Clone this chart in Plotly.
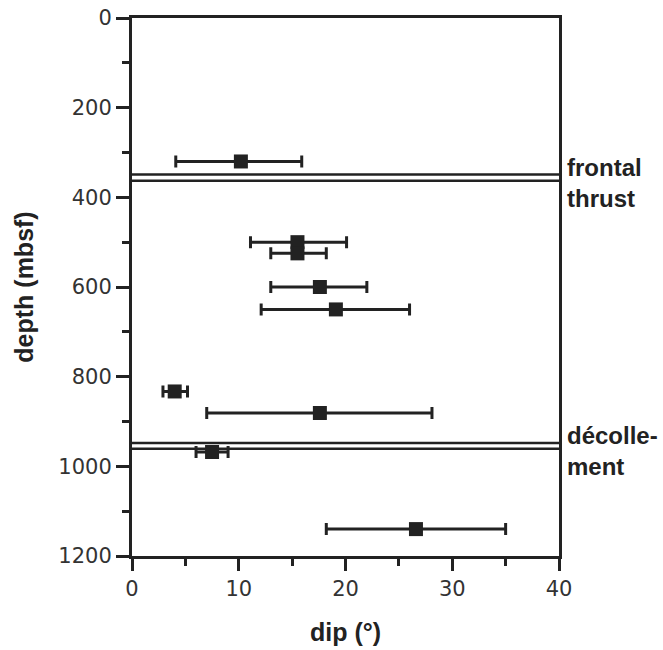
import plotly.graph_objects as go

# Dip measurements with depth
depth = [320, 500, 525, 600, 650, 833, 881, 968, 1140]
dip = [10.2, 15.5, 15.5, 17.6, 19.1, 4.0, 17.6, 7.5, 26.6]
dip_min = [4.1, 11.1, 13.0, 13.0, 12.1, 2.9, 7.0, 6.0, 18.2]
dip_max = [15.9, 20.1, 18.2, 22.0, 26.0, 5.2, 28.1, 9.0, 35.0]

# Structural boundaries drawn as double lines
boundary_names = ["frontal<br>thrust", "décolle-<br>ment"]
boundary_top = [349, 948]
boundary_bottom = [363, 961]
label_depth = [369, 965]

x_ticks = [0, 10, 20, 30, 40]
y_ticks = [0, 200, 400, 600, 800, 1000, 1200]

INK = "#222222"

err_plus = [hi - d for hi, d in zip(dip_max, dip)]
err_minus = [d - lo for lo, d in zip(dip_min, dip)]

fig = go.Figure()
fig.add_trace(go.Scatter(
    x=dip, y=depth, mode="markers",
    marker=dict(symbol="square", size=14, color=INK),
    error_x=dict(type="data", symmetric=False, array=err_plus, arrayminus=err_minus,
                 color=INK, thickness=3, width=6),
    showlegend=False, hoverinfo="skip",
))

shapes = []
for top, bot in zip(boundary_top, boundary_bottom):
    for yv in (top, bot):
        shapes.append(dict(type="line", xref="paper", x0=0, x1=1, yref="y", y0=yv, y1=yv,
                           line=dict(color=INK, width=2.5)))

annotations = []
for name, yd in zip(boundary_names, label_depth):
    bold = "<br>".join("<b>" + part + "</b>" for part in name.split("<br>"))
    annotations.append(dict(text=bold, xref="paper", x=1, xanchor="left", xshift=6,
                            yref="y", y=yd, yanchor="middle", showarrow=False, align="left",
                            font=dict(family="Liberation Sans", size=24, color=INK)))

tick_font = dict(family="DejaVu Sans", size=21, color="#333333")
title_font = dict(family="Liberation Sans", size=25, color=INK)

fig.update_layout(
    width=663, height=650,
    margin=dict(l=132, r=104, t=18, b=94, autoexpand=False),
    plot_bgcolor="white", paper_bgcolor="white",
    shapes=shapes, annotations=annotations,
    xaxis=dict(range=[0, 40], tickvals=x_ticks, ticks="outside", ticklen=12, tickwidth=3,
               tickcolor=INK, showgrid=False, zeroline=False, showline=True, automargin=False,
               linewidth=3, linecolor=INK, mirror=True, tickfont=tick_font,
               minor=dict(dtick=5, ticks="outside", ticklen=7, tickwidth=3, tickcolor=INK, showgrid=False),
               title=dict(text="<b>dip (°)</b>", font=title_font, standoff=24)),
    yaxis=dict(range=[1200, 0], tickvals=y_ticks, ticks="outside", ticklen=13, tickwidth=3,
               tickcolor=INK, showgrid=False, zeroline=False, showline=True, automargin=False,
               linewidth=3, linecolor=INK, mirror=True, tickfont=tick_font,
               minor=dict(dtick=100, ticks="outside", ticklen=7, tickwidth=3, tickcolor=INK, showgrid=False),
               title=dict(text="<b>depth (mbsf)</b>", font=title_font, standoff=18)),
)

fig.write_html("out.html")
